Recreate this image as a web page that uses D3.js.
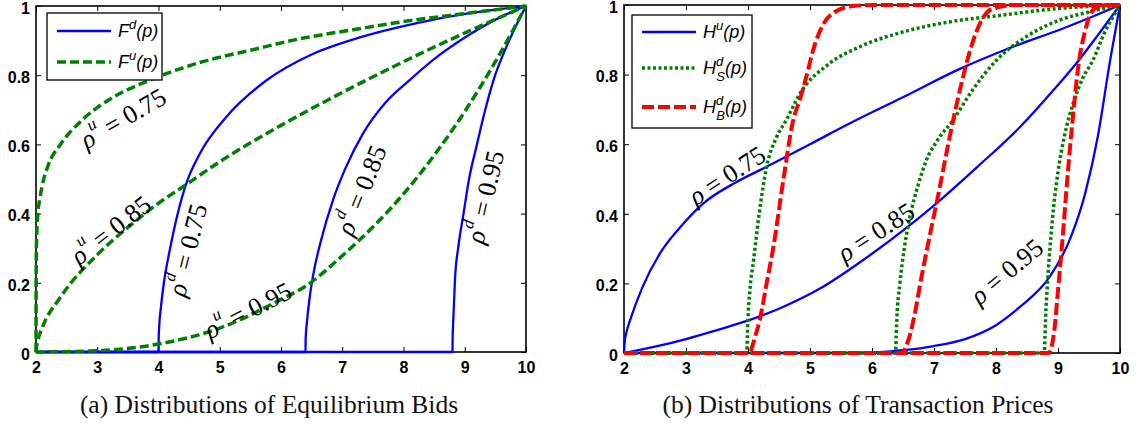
<!DOCTYPE html>
<html>
<head>
<meta charset="utf-8">
<script src="https://cdn.jsdelivr.net/npm/d3@7"></script>
<style>
  body { margin: 0; background: #fff; }
  svg { display: block; }
</style>
</head>
<body>
<div id="chart"></div>
<script>
// two panels: equilibrium bid CDFs (a) and transaction price CDFs (b)

const xTicks = [2, 3, 4, 5, 6, 7, 8, 9, 10];
const yTicks = [0, 0.2, 0.4, 0.6, 0.8, 1];

// panel (a): F^d (solid blue) and F^u (dashed green), [p, F]
const fdRho075 = [[2,0],[4,0],[4.003,0.04],[4.01,0.07],[4.04,0.13],[4.08,0.19],[4.19,0.30],[4.3,0.39],[4.46,0.49],[4.68,0.575],[5.11,0.68],[5.77,0.786],[6.5,0.86],[7.3,0.91],[8.2,0.95],[9.1,0.98],[10,1]];
const fdRho085 = [[2,0],[6.4,0],[6.403,0.04],[6.42,0.08],[6.47,0.16],[6.53,0.227],[6.65,0.32],[6.85,0.44],[7.05,0.53],[7.34,0.632],[7.7,0.72],[8.1,0.786],[8.6,0.86],[9.1,0.92],[9.55,0.965],[10,1]];
const fdRho095 = [[2,0],[8.8,0],[8.802,0.04],[8.81,0.08],[8.84,0.208],[8.9,0.31],[8.98,0.40],[9.07,0.5],[9.19,0.593],[9.32,0.69],[9.47,0.786],[9.65,0.87],[9.83,0.94],[10,1]];
const fuRho075 = [[2,0],[2.003,0.25],[2.01,0.33],[2.03,0.40],[2.06,0.44],[2.1,0.48],[2.2,0.54],[2.4,0.6],[2.75,0.67],[3.2,0.73],[3.86,0.786],[4.7,0.838],[5.5,0.872],[6.3,0.905],[7.2,0.932],[8,0.955],[9,0.978],[10,1]];
const fuRho085 = [[2,0],[2.005,0.011],[2.02,0.026],[2.1,0.069],[2.39,0.156],[3,0.281],[3.5,0.36],[4,0.43],[4.42,0.48],[5,0.55],[6,0.655],[7,0.75],[8,0.839],[9,0.922],[10,1]];
const fuRho095 = [[2,0],[3,0.004],[4,0.023],[5,0.069],[6,0.152],[6.4,0.19],[7,0.278],[8,0.457],[9,0.695],[9.5,0.839],[10,1]];

// panel (b): H^u (solid blue), H^d_S (dotted green), H^d_B (dashed red)
const huRho075 = [[2,0],[2.01,0.03],[2.04,0.06],[2.1,0.095],[2.3,0.19],[2.58,0.286],[2.9,0.36],[3.28,0.43],[3.8,0.49],[4.3,0.535],[5,0.6],[5.7,0.665],[6.5,0.735],[7.4,0.815],[8.2,0.875],[9.1,0.934],[9.6,0.97],[10,1]];
const huRho085 = [[2,0],[2.5,0.018],[3,0.04],[3.5,0.066],[4.03,0.095],[4.6,0.135],[5.16,0.185],[5.8,0.26],[6.56,0.36],[7.04,0.43],[7.7,0.535],[8.39,0.65],[8.9,0.75],[9.33,0.84],[9.65,0.915],[10,1]];
const huRho095 = [[2,0],[5.8,0],[6.5,0.008],[7,0.02],[7.5,0.04],[8,0.08],[8.39,0.133],[8.87,0.22],[9.2,0.33],[9.44,0.46],[9.64,0.62],[9.84,0.84],[10,1]];
const hsRho075 = [[2,0],[3.98,0],[3.99,0.05],[4.0,0.1],[4.03,0.18],[4.09,0.267],[4.18,0.4],[4.3,0.535],[4.46,0.62],[4.62,0.67],[4.84,0.746],[5.3,0.83],[5.8,0.88],[6.45,0.92],[7.2,0.95],[8.06,0.97],[9,0.99],[10,1]];
const hsRho085 = [[2,0],[6.38,0],[6.39,0.05],[6.4,0.095],[6.45,0.2],[6.52,0.3],[6.61,0.39],[6.74,0.48],[6.88,0.555],[7.05,0.61],[7.31,0.67],[7.6,0.75],[8,0.84],[8.5,0.91],[9,0.955],[9.5,0.98],[10,1]];
const hsRho095 = [[2,0],[8.78,0],[8.79,0.05],[8.8,0.1],[8.83,0.2],[8.87,0.3],[8.93,0.42],[9.0,0.52],[9.1,0.62],[9.25,0.72],[9.4,0.79],[9.56,0.84],[9.75,0.92],[9.9,0.97],[10,1]];
const hbRho075 = [[2,0],[4.03,0],[4.07,0.02],[4.12,0.05],[4.19,0.095],[4.3,0.2],[4.41,0.305],[4.57,0.497],[4.73,0.67],[4.84,0.73],[4.95,0.8],[5.05,0.87],[5.2,0.94],[5.4,0.98],[5.7,0.997],[6,1],[10,1]];
const hbRho085 = [[2,0],[6.48,0],[6.55,0.02],[6.61,0.05],[6.67,0.095],[6.8,0.22],[6.95,0.353],[7.06,0.447],[7.31,0.67],[7.45,0.78],[7.6,0.88],[7.75,0.95],[7.95,0.99],[8.3,1],[10,1]];
const hbRho095 = [[2,0],[8.85,0],[8.9,0.02],[8.95,0.08],[9.0,0.18],[9.07,0.32],[9.15,0.5],[9.23,0.66],[9.34,0.84],[9.43,0.92],[9.53,0.977],[9.65,0.995],[9.8,1],[10,1]];

// curve annotations: [p, F, angle, symbol, sup, value]
const labelsA = [
  [3.42, 0.676, -30, 'ρ', 'u', '0.75'],
  [3.22, 0.353, -38, 'ρ', 'u', '0.85'],
  [5.46, 0.121, -27, 'ρ', 'u', '0.95'],
  [4.47, 0.295, -76, 'ρ', 'd', '0.75'],
  [7.31, 0.468, -68, 'ρ', 'd', '0.85'],
  [9.33, 0.448, -77, 'ρ', 'd', '0.95']
];
const labelsB = [
  [3.66, 0.511, -33, 'ρ', '', '0.75'],
  [6.06, 0.348, -33, 'ρ', '', '0.85'],
  [8.17, 0.235, -40, 'ρ', '', '0.95']
];

const width = 1139, height = 425;
const BLUE = '#0000ff', GREEN = '#008000', RED = '#ff0000';

const svg = d3.select('#chart')
  .append('svg')
  .attr('width', width)
  .attr('height', height)
  .style('background', '#fff');

function drawPanel(x, y) {
  const g = svg.append('g');
  const [x0, x1] = x.range(), [y0, y1] = y.range();

  g.append('g')
    .attr('transform', `translate(0,${y0})`)
    .call(d3.axisBottom(x).tickValues(xTicks).tickSizeInner(-5).tickSizeOuter(0).tickPadding(10));
  g.append('g')
    .attr('class', 'yaxis')
    .attr('transform', `translate(${x0},0)`)
    .call(d3.axisLeft(y).tickValues(yTicks).tickSizeInner(-5).tickSizeOuter(0).tickPadding(6)
      .tickFormat(d => (d === 0 || d === 1) ? d : d.toFixed(1)));
  g.append('g')
    .attr('transform', `translate(0,${y1})`)
    .call(d3.axisTop(x).tickValues(xTicks).tickSizeInner(-5).tickSizeOuter(0).tickFormat(''));
  g.append('g')
    .attr('transform', `translate(${x1},0)`)
    .call(d3.axisRight(y).tickValues(yTicks).tickSizeInner(-5).tickSizeOuter(0).tickFormat(''));

  g.selectAll('.domain').remove();
  g.selectAll('.tick line').attr('stroke', '#000').attr('stroke-width', 1);
  g.selectAll('.tick text')
    .attr('fill', '#000')
    .attr('font-family', 'Liberation Sans, Arial, sans-serif')
    .attr('font-weight', 'bold')
    .attr('font-size', 16);
  g.selectAll('.yaxis .tick text').attr('dy', '0.45em');

  g.append('rect')
    .attr('x', x0).attr('y', y1)
    .attr('width', x1 - x0).attr('height', y0 - y1)
    .attr('fill', 'none')
    .attr('stroke', '#000')
    .attr('stroke-width', 1.6);
  return g;
}

function drawCurve(g, x, y, data, color, w, dash) {
  const line = d3.line()
    .x(d => x(d[0]))
    .y(d => y(d[1]))
    .curve(d3.curveMonotoneX);
  g.append('path')
    .datum(data)
    .attr('d', line)
    .attr('fill', 'none')
    .attr('stroke', color)
    .attr('stroke-width', w)
    .attr('stroke-dasharray', dash || null)
    .attr('stroke-linejoin', 'round');
}

function drawLabels(g, x, y, labels, size) {
  labels.forEach(l => {
    const t = g.append('text')
      .attr('transform', `translate(${x(l[0])},${y(l[1])}) rotate(${l[2]})`)
      .attr('text-anchor', 'middle')
      .attr('dominant-baseline', 'central')
      .attr('font-family', 'Liberation Serif, Times New Roman, serif')
      .attr('font-size', size)
      .attr('fill', '#000');
    t.append('tspan').attr('font-style', 'italic').text(l[3]);
    if (l[4]) {
      t.append('tspan').attr('font-style', 'italic').attr('font-size', size * 0.65)
        .attr('dy', -size * 0.42).text(l[4]);
      t.append('tspan').attr('dy', size * 0.42).text(' = ' + l[5]);
    } else {
      t.append('tspan').text(' = ' + l[5]);
    }
  });
}

function drawLegend(g, bx, by, bw, bh, items) {
  g.append('rect')
    .attr('x', bx).attr('y', by).attr('width', bw).attr('height', bh)
    .attr('fill', '#fff').attr('stroke', '#000').attr('stroke-width', 1.3);
  items.forEach(it => {
    g.append('line')
      .attr('x1', bx + 10).attr('x2', bx + 64)
      .attr('y1', it.y).attr('y2', it.y)
      .attr('stroke', it.color).attr('stroke-width', it.w)
      .attr('stroke-dasharray', it.dash || null);
    const t = g.append('text')
      .attr('x', bx + 71).attr('y', it.y + 6)
      .attr('font-family', 'Liberation Sans, Arial, sans-serif')
      .attr('font-style', 'italic')
      .attr('font-size', 18)
      .attr('fill', '#000');
    t.append('tspan').text(it.base);
    if (it.sub) {
      t.append('tspan').attr('font-size', 13).attr('dy', -8).text(it.sup);
      t.append('tspan').attr('font-size', 13).attr('dx', -7).attr('dy', 15).text(it.sub);
      t.append('tspan').attr('dy', -7).text('(p)');
    } else {
      t.append('tspan').attr('font-size', 13).attr('dy', -8).text(it.sup);
      t.append('tspan').attr('dy', 8).text('(p)');
    }
  });
}

// panel (a)
const xA = d3.scaleLinear().domain([2, 10]).range([36, 526]);
const yA = d3.scaleLinear().domain([0, 1]).range([352, 6]);
const gA = drawPanel(xA, yA);
[fdRho075, fdRho085, fdRho095].forEach(d => drawCurve(gA, xA, yA, d, BLUE, 2.3));
[fuRho075, fuRho085, fuRho095].forEach(d => drawCurve(gA, xA, yA, d, GREEN, 3.5, '9,4'));
drawLabels(gA, xA, yA, labelsA, 26);
drawLegend(gA, 47, 13, 115, 67, [
  { y: 31, color: BLUE, w: 2.3, base: 'F', sup: 'd' },
  { y: 62, color: GREEN, w: 3.5, dash: '9,4', base: 'F', sup: 'u' }
]);

// panel (b)
const xB = d3.scaleLinear().domain([2, 10]).range([624, 1120]);
const yB = d3.scaleLinear().domain([0, 1]).range([353, 5]);
const gB = drawPanel(xB, yB);
[huRho075, huRho085, huRho095].forEach(d => drawCurve(gB, xB, yB, d, BLUE, 2.3));
[hsRho075, hsRho085, hsRho095].forEach(d => drawCurve(gB, xB, yB, d, GREEN, 3.5, '3,2.5'));
[hbRho075, hbRho085, hbRho095].forEach(d => drawCurve(gB, xB, yB, d, RED, 4, '12,4'));
drawLabels(gB, xB, yB, labelsB, 26);
drawLegend(gB, 632, 15, 120, 113, [
  { y: 32, color: BLUE, w: 2.3, base: 'H', sup: 'u' },
  { y: 68, color: GREEN, w: 3.5, dash: '3,2.5', base: 'H', sup: 'd', sub: 'S' },
  { y: 107, color: RED, w: 4, dash: '12,4', base: 'H', sup: 'd', sub: 'B' }
]);

// captions
svg.append('text')
  .attr('x', 269).attr('y', 413)
  .attr('text-anchor', 'middle')
  .attr('font-family', 'Liberation Serif, Times New Roman, serif')
  .attr('font-size', 25.5)
  .attr('fill', '#111')
  .text('(a) Distributions of Equilibrium Bids');
svg.append('text')
  .attr('x', 858).attr('y', 413)
  .attr('text-anchor', 'middle')
  .attr('font-family', 'Liberation Serif, Times New Roman, serif')
  .attr('font-size', 25.5)
  .attr('fill', '#111')
  .text('(b) Distributions of Transaction Prices');
</script>
</body>
</html>
